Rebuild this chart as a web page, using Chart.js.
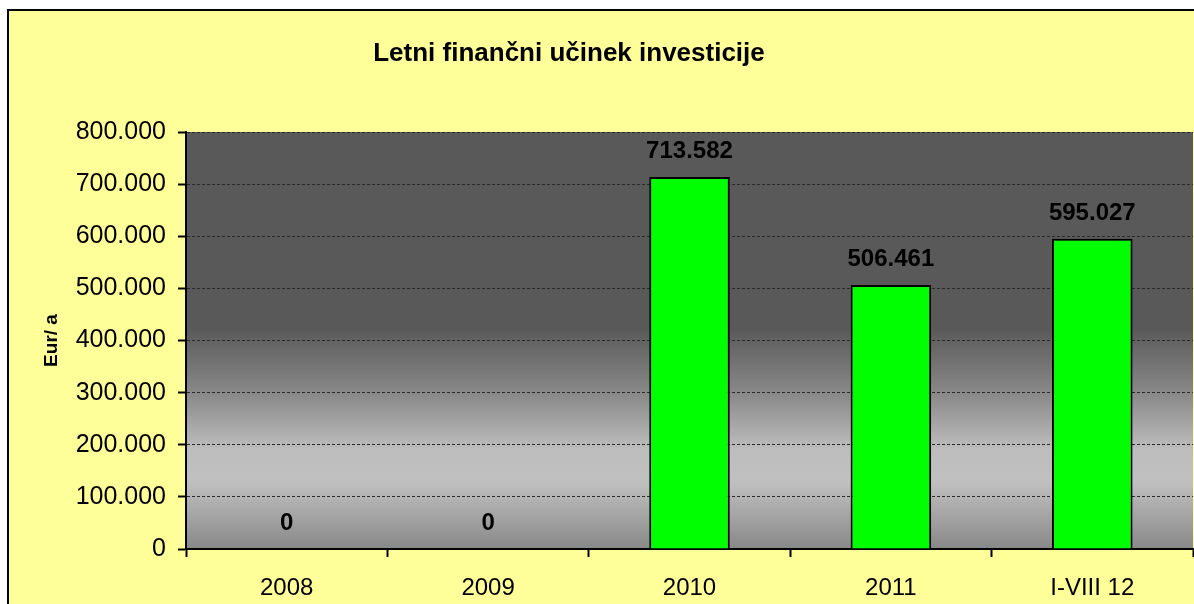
<!DOCTYPE html>
<html>
<head>
<meta charset="utf-8">
<script src="https://cdn.jsdelivr.net/npm/chart.js@4/dist/chart.umd.min.js"></script>
<style>
html,body{margin:0;padding:0;background:#ffffff;}
#wrap{position:relative;width:1194px;height:604px;}
</style>
</head>
<body>
<div id="wrap"><canvas id="c" width="1194" height="604"></canvas></div>
<script>
const chartTitle = 'Letni finančni učinek investicije';
const yAxisTitle = 'Eur/ a';
const categories = ['2008', '2009', '2010', '2011', 'I-VIII 12'];
const values = [0, 0, 713582, 506461, 595027];
const yTickValues = [0, 100000, 200000, 300000, 400000, 500000, 600000, 700000, 800000];

function fmt(v) {
  return String(Math.round(v)).replace(/\B(?=(\d{3})+(?!\d))/g, '.');
}

const FONT = '"Liberation Sans", Arial, sans-serif';

const bgPlugin = {
  id: 'bg',
  beforeDraw(chart) {
    const ctx = chart.ctx;
    const W = chart.width, H = chart.height;
    ctx.save();
    ctx.fillStyle = '#ffffff';
    ctx.fillRect(0, 0, W, H);
    ctx.fillStyle = '#FFFF99';
    ctx.fillRect(8, 9, W - 8, H - 9);
    ctx.strokeStyle = '#000000';
    ctx.lineWidth = 2;
    ctx.beginPath();
    ctx.moveTo(8, H);
    ctx.lineTo(8, 10);
    ctx.lineTo(W, 10);
    ctx.stroke();
    const a = chart.chartArea;
    const g = ctx.createLinearGradient(0, a.top, 0, a.bottom);
    g.addColorStop(0, '#595959');
    g.addColorStop(0.47, '#595959');
    g.addColorStop(0.63, '#8a8a8a');
    g.addColorStop(0.76, '#bdbdbd');
    g.addColorStop(0.84, '#c0c0c0');
    g.addColorStop(1, '#888888');
    ctx.fillStyle = g;
    ctx.fillRect(a.left, a.top, a.right - a.left, a.bottom - a.top);
    // title
    ctx.fillStyle = '#000000';
    ctx.font = 'bold 26px ' + FONT;
    ctx.textAlign = 'center';
    ctx.textBaseline = 'alphabetic';
    ctx.fillText(chartTitle, 569, 61);
    ctx.restore();
  }
};

const labelPlugin = {
  id: 'vals',
  afterDatasetsDraw(chart) {
    const ctx = chart.ctx;
    const meta = chart.getDatasetMeta(0);
    ctx.save();
    ctx.fillStyle = '#000000';
    ctx.font = 'bold 24px ' + FONT;
    ctx.textAlign = 'center';
    ctx.textBaseline = 'alphabetic';
    meta.data.forEach((bar, i) => {
      ctx.fillText(fmt(values[i]), bar.x, bar.y - 19);
    });
    ctx.restore();
  }
};

new Chart(document.getElementById('c'), {
  type: 'bar',
  data: {
    labels: categories,
    datasets: [{
      data: values,
      backgroundColor: '#00FF00',
      borderColor: '#000000',
      borderWidth: 2,
      barPercentage: 0.4,
      categoryPercentage: 1.0
    }]
  },
  options: {
    responsive: false,
    animation: false,
    events: [],
    layout: { padding: { left: 8, top: 132, right: 1, bottom: 0 } },
    plugins: {
      legend: { display: false },
      title: { display: false },
      tooltip: { enabled: false }
    },
    scales: {
      x: {
        offset: true,
        grid: {
          offset: true,
          drawOnChartArea: false,
          drawTicks: true,
          tickLength: 8,
          tickColor: '#000000',
          tickWidth: 2
        },
        border: { display: true, color: '#000000', width: 2 },
        ticks: {
          color: '#000000',
          font: { family: FONT, size: 24 },
          padding: 17,
          maxRotation: 0,
          autoSkip: false
        },
        afterFit(scale) { scale.height = 55; }
      },
      y: {
        min: 0,
        max: 800000,
        afterBuildTicks(scale) {
          scale.ticks = yTickValues.map(v => ({ value: v }));
        },
        grid: {
          color: '#2a2a2a',
          lineWidth: 1,
          drawTicks: true,
          tickLength: 8,
          tickColor: '#000000',
          tickWidth: 2,
          tickBorderDash: []
        },
        border: { display: true, color: '#000000', width: 2, dash: [3, 2] },
        ticks: {
          color: '#000000',
          font: { family: FONT, size: 25 },
          padding: 12,
          callback: (v) => fmt(v)
        },
        title: {
          display: true,
          text: yAxisTitle,
          color: '#000000',
          font: { family: FONT, size: 19, weight: 'bold' },
          padding: { top: 32, bottom: 0 }
        },
        afterFit(scale) { scale.width = 178; }
      }
    }
  },
  plugins: [bgPlugin, labelPlugin]
});
</script>
</body>
</html>
